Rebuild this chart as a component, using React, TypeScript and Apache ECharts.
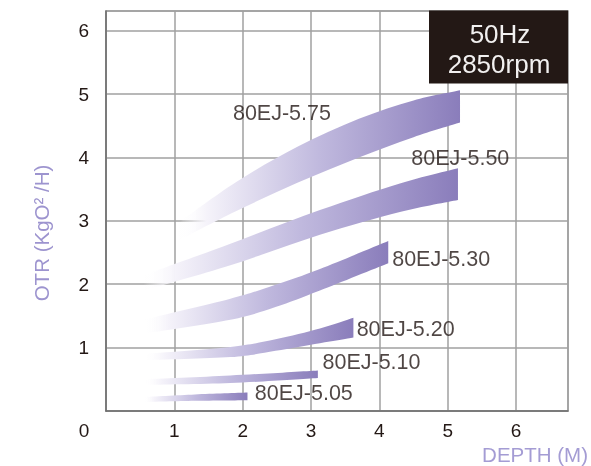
import { useEffect, useRef } from "react";
import * as echarts from "echarts";

const xMax = 6.76;
const yMax = 6.31;

const bandNames = ["80EJ-5.75", "80EJ-5.50", "80EJ-5.30", "80EJ-5.20", "80EJ-5.10", "80EJ-5.05"];

const bandX = [
  [1.06, 1.9, 2.8, 3.7, 4.5, 5.18],
  [0.55, 1.82, 3.13, 4.3, 5.15],
  [0.55, 1.82, 2.48, 3.13, 4.13],
  [0.55, 1.82, 2.48, 3.13, 3.62],
  [0.55, 1.82, 3.1],
  [0.55, 1.3, 2.07],
];
const bandUpper = [
  [2.97, 3.61, 4.17, 4.61, 4.9, 5.06],
  [2.14, 2.64, 3.17, 3.59, 3.83],
  [1.44, 1.77, 1.99, 2.24, 2.68],
  [0.9, 1.01, 1.13, 1.3, 1.47],
  [0.5, 0.56, 0.64],
  [0.22, 0.26, 0.29],
];
const bandLower = [
  [2.69, 3.15, 3.6, 4.0, 4.32, 4.55],
  [1.9, 2.3, 2.78, 3.14, 3.33],
  [1.22, 1.44, 1.64, 1.9, 2.33],
  [0.8, 0.85, 0.95, 1.07, 1.16],
  [0.41, 0.44, 0.52],
  [0.14, 0.16, 0.17],
];

// label anchor (left edge x, vertical centre y) in data units
const labelX = [1.85, 4.46, 4.18, 3.66, 3.16, 2.17];
const labelY = [4.7, 3.99, 2.4, 1.3, 0.77, 0.28];

const FONT = "'Liberation Sans', Arial, sans-serif";

function smoothTo(ctx: any, pts: number[][]) {
  const n = pts.length;
  for (let i = 0; i < n - 1; i++) {
    const p0 = pts[Math.max(0, i - 1)];
    const p1 = pts[i];
    const p2 = pts[i + 1];
    const p3 = pts[Math.min(n - 1, i + 2)];
    const c1x = p1[0] + (p2[0] - p0[0]) / 6;
    const c1y = p1[1] + (p2[1] - p0[1]) / 6;
    const c2x = p2[0] - (p3[0] - p1[0]) / 6;
    const c2y = p2[1] - (p3[1] - p1[1]) / 6;
    ctx.bezierCurveTo(c1x, c1y, c2x, c2y, p2[0], p2[1]);
  }
}

const BandShape = (echarts.graphic as any).extendShape({
  shape: { up: [], lo: [] },
  buildPath(ctx: any, shape: any) {
    const up: number[][] = shape.up;
    const lo: number[][] = shape.lo;
    if (!up.length) return;
    ctx.moveTo(up[0][0], up[0][1]);
    smoothTo(ctx, up);
    const rl = lo.slice().reverse();
    ctx.lineTo(rl[0][0], rl[0][1]);
    smoothTo(ctx, rl);
    ctx.closePath();
  },
});
(echarts.graphic as any).registerShape("band", BandShape);

export default function App() {
  const ref = useRef<HTMLDivElement>(null);
  useEffect(() => {
    if (!ref.current) return;
    const chart = echarts.init(ref.current, undefined, { renderer: "svg" });

    const bandSeries = {
      type: "custom",
      coordinateSystem: "cartesian2d",
      silent: true,
      z: 2,
      data: bandNames.map((_, i) => [bandX[i][0], bandUpper[i][0], i]),
      encode: { x: 0, y: 1 },
      renderItem: (_params: any, api: any) => {
        const i = api.value(2);
        const up = bandX[i].map((x, j) => api.coord([x, bandUpper[i][j]]));
        const lo = bandX[i].map((x, j) => api.coord([x, bandLower[i][j]]));
        return {
          type: "band",
          shape: { up, lo },
          style: {
            fill: new echarts.graphic.LinearGradient(0, 0, 1, 0, [
              { offset: 0, color: "rgba(255,255,255,0)" },
              { offset: 0.1, color: "#f5f3fa" },
              { offset: 0.5, color: "#c0b9de" },
              { offset: 1, color: "#8a7dbb" },
            ]),
          },
        };
      },
    };

    const labelSeries = {
      type: "scatter",
      symbolSize: 1,
      itemStyle: { color: "rgba(0,0,0,0)" },
      silent: true,
      z: 5,
      data: bandNames.map((n, i) => ({ name: n, value: [labelX[i], labelY[i]] })),
      label: {
        show: true,
        position: "right",
        distance: 0,
        formatter: (p: any) => p.name,
        color: "#231815",
        fontSize: 21.5,
        fontFamily: FONT,
        align: "left",
        verticalAlign: "middle",
      },
    };

    chart.setOption({
      animation: false,
      grid: {
        left: 106,
        right: 23,
        top: 11,
        bottom: 55,
        show: true,
        borderColor: "#9a9a9a",
        borderWidth: 1.5,
      },
      xAxis: {
        type: "value",
        min: 0,
        max: xMax,
        interval: 1,
        axisLine: { show: true, lineStyle: { color: "#6e6e6e", width: 1.5 } },
        axisTick: { show: false },
        splitLine: { show: true, lineStyle: { color: "#a0a0a0", width: 1.5 } },
        axisLabel: {
          margin: 10,
          fontSize: 19,
          color: "#231815",
          fontFamily: FONT,
          formatter: (v: number) => (Number.isInteger(v) && v > 0 ? String(v) : ""),
        },
      },
      yAxis: {
        type: "value",
        min: 0,
        max: yMax,
        interval: 1,
        axisLine: { show: true, lineStyle: { color: "#6e6e6e", width: 1.5 } },
        axisTick: { show: false },
        splitLine: { show: true, lineStyle: { color: "#a0a0a0", width: 1.5 } },
        axisLabel: {
          margin: 17,
          fontSize: 19,
          color: "#231815",
          fontFamily: FONT,
          formatter: (v: number) => (Number.isInteger(v) && v > 0 ? String(v) : ""),
        },
      },
      graphic: [
        {
          type: "text",
          x: 84,
          y: 430,
          style: { text: "0", fontSize: 19, fill: "#231815", fontFamily: FONT, align: "center", verticalAlign: "middle" },
        },
        {
          type: "text",
          x: 41,
          y: 233,
          rotation: Math.PI / 2,
          style: { text: "OTR (KgO² /H)", fontSize: 20.5, fill: "#9d94cf", fontFamily: FONT, align: "center", verticalAlign: "middle" },
        },
        {
          type: "text",
          x: 588,
          y: 454,
          style: { text: "DEPTH (M)", fontSize: 20.5, fill: "#a49cd4", fontFamily: FONT, align: "right", verticalAlign: "middle" },
        },
        {
          type: "rect",
          shape: { x: 429, y: 10.5, width: 139, height: 73 },
          style: { fill: "#231815" },
          z: 10,
        },
        {
          type: "text",
          x: 500,
          y: 33.5,
          z: 11,
          style: { text: "50Hz", fontSize: 26, fill: "#f2f0f0", fontFamily: FONT, align: "center", verticalAlign: "middle" },
        },
        {
          type: "text",
          x: 499,
          y: 64,
          z: 11,
          style: { text: "2850rpm", fontSize: 26, fill: "#f2f0f0", fontFamily: FONT, align: "center", verticalAlign: "middle" },
        },
      ],
      series: [bandSeries, labelSeries],
    });
    return () => chart.dispose();
  }, []);
  return <div ref={ref} style={{ position: "fixed", left: 0, top: 0, width: 591, height: 466 }} />;
}
